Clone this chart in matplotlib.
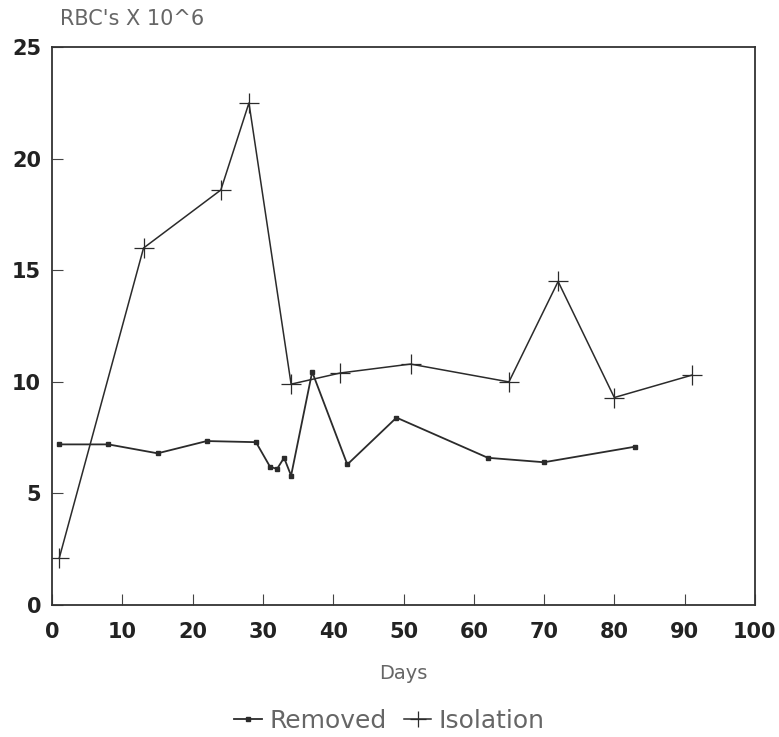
import matplotlib.pyplot as plt

days_removed = [1, 8, 15, 22, 29, 31, 32, 33, 34, 37, 42, 49, 62, 70, 83]
rbc_removed = [7.2, 7.2, 6.8, 7.35, 7.3, 6.2, 6.1, 6.6, 5.8, 10.45, 6.3, 8.4, 6.6, 6.4, 7.1]

days_isolation = [1, 13, 24, 28, 34, 41, 51, 65, 72, 80, 91]
rbc_isolation = [2.1, 16.0, 18.6, 22.5, 9.9, 10.4, 10.8, 10.0, 14.5, 9.3, 10.3]

xticks = [0, 10, 20, 30, 40, 50, 60, 70, 80, 90, 100]
yticks = [0, 5, 10, 15, 20, 25]

line_col = '#2b2b2b'
text_col = '#666666'

fig = plt.figure(figsize=(7.79, 7.37), dpi=100)
ax = fig.add_axes([0.067, 0.179, 0.902, 0.757])

ax.plot(days_removed, rbc_removed, color=line_col, lw=1.3, marker='s', ms=3.5,
        mfc=line_col, mec=line_col, label='Removed')
ax.plot(days_isolation, rbc_isolation, color=line_col, lw=1.1, marker='+', ms=14,
        mew=0.9, label='Isolation')

ax.set_xlim(0, 100)
ax.set_ylim(0, 25)
ax.set_xticks(xticks)
ax.set_yticks(yticks)
ax.tick_params(direction='in', length=8, width=0.8, color='#444444')
ax.tick_params(axis='x', pad=12)
ax.tick_params(axis='y', pad=8)
for lab in ax.get_xticklabels() + ax.get_yticklabels():
    lab.set_fontweight('bold')
    lab.set_fontsize(15)
    lab.set_color('#222222')
for s in ax.spines.values():
    s.set_linewidth(1.3)
    s.set_color('#333333')

ax.set_xlabel('Days', fontsize=14, color=text_col, labelpad=16)
fig.text(0.077, 0.988, "RBC's X 10^6", fontsize=15, color=text_col, va='top', ha='left')

leg = fig.legend(loc='center', bbox_to_anchor=(0.5, 0.022), ncol=2, frameon=False,
                 fontsize=18, handlelength=1.1, handletextpad=0.3, columnspacing=0.7,
                 markerscale=0.8)
for t in leg.get_texts():
    t.set_color(text_col)

fig.savefig('out.png', dpi=100)
